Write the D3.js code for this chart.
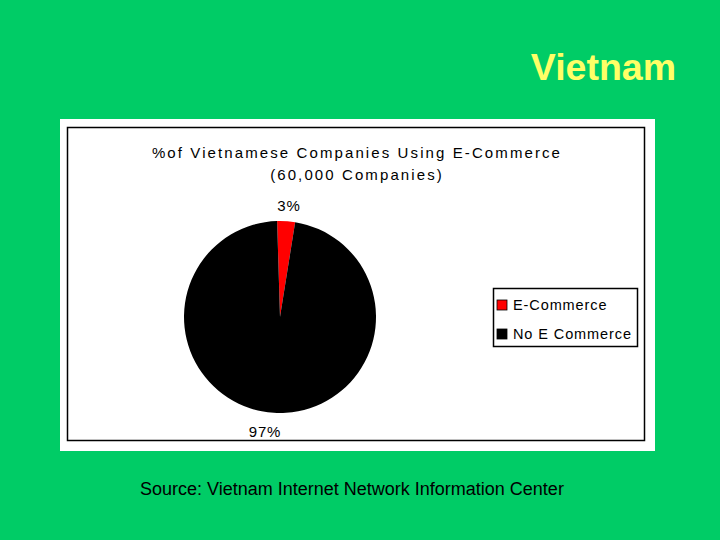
<!DOCTYPE html>
<html><head><meta charset="utf-8">
<script src="https://cdn.jsdelivr.net/npm/d3@7"></script>
<style>body{margin:0;background:#00CC66;}svg{display:block;}</style>
</head><body>
<svg id="c" width="720" height="540"></svg>
<script>
const categories = ["E-Commerce", "No E Commerce"];
const values = [3, 97];
const labels = ["3%", "97%"];
const colors = ["#FF0000", "#000000"];
const slideTitle = "Vietnam";
const chartTitle = ["%of Vietnamese Companies Using E-Commerce", "(60,000 Companies)"];
const source = "Source: Vietnam Internet Network Information Center";

const svg = d3.select("#c");
svg.append("rect").attr("width",720).attr("height",540).attr("fill","#00CC66");
svg.append("text").attr("x",676).attr("y",80).attr("text-anchor","end")
  .attr("font-family","Arial, Liberation Sans, sans-serif").attr("font-weight","bold")
  .attr("font-size",37.5).attr("fill","#FFFF66").text(slideTitle);

// panel
svg.append("rect").attr("x",60).attr("y",119).attr("width",595).attr("height",332).attr("fill","#fff");
svg.append("rect").attr("x",67.5).attr("y",127.5).attr("width",577).attr("height",313)
  .attr("fill","none").attr("stroke","#000").attr("stroke-width",1.5);

const tf = "Arial, Liberation Sans, sans-serif";
chartTitle.forEach((t,i)=>{
  svg.append("text").attr("x",357).attr("y",158+i*22).attr("text-anchor","middle")
    .attr("font-family",tf).attr("font-size",15).attr("letter-spacing",2.1).attr("fill","#000").text(t);
});

const cx = 280, cy = 317, r = 96;
const pie = d3.pie().sort(null).startAngle(-0.03).endAngle(2*Math.PI-0.03);
const arcs = pie(values);
const arc = d3.arc().innerRadius(0).outerRadius(r);
const g = svg.append("g").attr("transform",`translate(${cx},${cy})`);
g.selectAll("path").data(arcs).join("path").attr("d",arc).attr("fill",(d,i)=>colors[i]);

// slice labels
const lblPos = [[289,211],[265,437]];
labels.forEach((l,i)=>{
  svg.append("text").attr("x",lblPos[i][0]).attr("y",lblPos[i][1]).attr("text-anchor","middle")
    .attr("font-family",tf).attr("font-size",15).attr("letter-spacing",0.8).attr("fill","#000").text(l);
});

// legend
svg.append("rect").attr("x",493.5).attr("y",288.5).attr("width",144).attr("height",58)
  .attr("fill","#fff").attr("stroke","#000").attr("stroke-width",1.5);
categories.forEach((c,i)=>{
  const y = 305 + i*29;
  svg.append("rect").attr("x",497).attr("y",y-5).attr("width",10).attr("height",10)
    .attr("fill",colors[i]).attr("stroke","#000").attr("stroke-width",0.8);
  svg.append("text").attr("x",513).attr("y",y+5).attr("font-family",tf).attr("font-size",14.5)
    .attr("letter-spacing",0.9).attr("fill","#000").text(c);
});

svg.append("text").attr("x",140).attr("y",495).attr("font-family",tf).attr("font-size",18)
  .attr("fill","#000").text(source);
</script>
</body></html>
